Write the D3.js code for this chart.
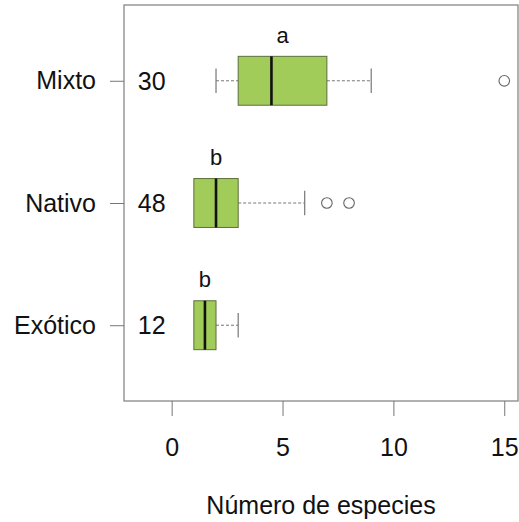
<!DOCTYPE html>
<html>
<head>
<meta charset="utf-8">
<script src="https://cdn.jsdelivr.net/npm/d3@7"></script>
<style>
  body { margin: 0; background: #fff; }
  text { font-family: "Liberation Sans", Arial, sans-serif; fill: #111; }
</style>
</head>
<body>
<div id="wrapper"></div>
<script>
// 1. Data

const groups = ["Mixto", "Nativo", "Exótico"];
const counts = [30, 48, 12];
const whiskerLow = [2, 1, 1];
const q1 = [3, 1, 1];
const medians = [4.5, 2, 1.5];
const q3 = [7, 3, 2];
const whiskerHigh = [9, 6, 3];
const outliers = [[15], [7, 8], []];
const letters = ["a", "b", "b"];
const letterPos = [5, 2, 1.5];
const xTicks = [0, 5, 10, 15];

const boxes = groups.map((g, i) => ({
  group: g, n: counts[i],
  lo: whiskerLow[i], q1: q1[i], med: medians[i], q3: q3[i], hi: whiskerHigh[i],
  out: outliers[i], letter: letters[i], letterX: letterPos[i],
  pos: groups.length - i,  // Mixto on top
}));

// 2. Dimensions

const dimensions = {
  width: 519,
  height: 522,
  margin: { top: 5, right: 1, bottom: 121, left: 124 },
};
dimensions.boundedWidth = dimensions.width - dimensions.margin.left - dimensions.margin.right;
dimensions.boundedHeight = dimensions.height - dimensions.margin.top - dimensions.margin.bottom;

// 3. Canvas

const wrapper = d3.select("#wrapper")
  .append("svg")
    .attr("width", dimensions.width)
    .attr("height", dimensions.height);

const bounds = wrapper.append("g")
    .attr("transform", `translate(${dimensions.margin.left}, ${dimensions.margin.top})`);

// 4. Scales

const xScale = d3.scaleLinear()
    .domain([-2.15, 15.62])
    .range([0, dimensions.boundedWidth]);

// positions 1..3 with R's 4% padding around 0.5..3.5
const yScale = d3.scaleLinear()
    .domain([0.38, 3.62])
    .range([dimensions.boundedHeight, 0]);

const boxHalf = 0.2;

// 5. Draw data

const boxG = bounds.selectAll("g.box")
  .data(boxes)
  .join("g")
    .attr("class", "box");

// whiskers (dashed)
boxG.append("line")
    .attr("x1", d => xScale(d.lo))
    .attr("x2", d => xScale(d.q1))
    .attr("y1", d => yScale(d.pos))
    .attr("y2", d => yScale(d.pos))
    .attr("stroke", "#777")
    .attr("stroke-dasharray", "3,2")
    .attr("display", d => d.lo < d.q1 ? null : "none");

boxG.append("line")
    .attr("x1", d => xScale(d.q3))
    .attr("x2", d => xScale(d.hi))
    .attr("y1", d => yScale(d.pos))
    .attr("y2", d => yScale(d.pos))
    .attr("stroke", "#777")
    .attr("stroke-dasharray", "3,2");

// whisker caps
boxG.append("line")
    .attr("x1", d => xScale(d.lo))
    .attr("x2", d => xScale(d.lo))
    .attr("y1", d => yScale(d.pos + boxHalf / 2))
    .attr("y2", d => yScale(d.pos - boxHalf / 2))
    .attr("stroke", "#777")
    .attr("stroke-width", 1.2)
    .attr("display", d => d.lo < d.q1 ? null : "none");

boxG.append("line")
    .attr("x1", d => xScale(d.hi))
    .attr("x2", d => xScale(d.hi))
    .attr("y1", d => yScale(d.pos + boxHalf / 2))
    .attr("y2", d => yScale(d.pos - boxHalf / 2))
    .attr("stroke", "#777")
    .attr("stroke-width", 1.2);

// the box
boxG.append("rect")
    .attr("x", d => xScale(d.q1))
    .attr("width", d => xScale(d.q3) - xScale(d.q1))
    .attr("y", d => yScale(d.pos + boxHalf))
    .attr("height", d => yScale(d.pos - boxHalf) - yScale(d.pos + boxHalf))
    .attr("fill", "#a2cc5a")
    .attr("stroke", "#5d6e3c")
    .attr("stroke-width", 1);

// median
boxG.append("line")
    .attr("x1", d => xScale(d.med))
    .attr("x2", d => xScale(d.med))
    .attr("y1", d => yScale(d.pos + boxHalf))
    .attr("y2", d => yScale(d.pos - boxHalf))
    .attr("stroke", "#111")
    .attr("stroke-width", 2.6);

// outliers
boxG.selectAll("circle")
  .data(d => d.out.map(v => ({ v, pos: d.pos })))
  .join("circle")
    .attr("cx", d => xScale(d.v))
    .attr("cy", d => yScale(d.pos))
    .attr("r", 5.3)
    .attr("fill", "none")
    .attr("stroke", "#666")
    .attr("stroke-width", 1.1);

// sample sizes
boxG.append("text")
    .attr("x", xScale(-0.9))
    .attr("y", d => yScale(d.pos) + 9)
    .attr("text-anchor", "middle")
    .style("font-size", "25px")
    .text(d => d.n);

// significance letters
boxG.append("text")
    .attr("x", d => xScale(d.letterX))
    .attr("y", d => yScale(d.pos + 0.31))
    .attr("text-anchor", "middle")
    .style("font-size", "22px")
    .text(d => d.letter);

// 6. Peripherals

bounds.append("rect")
    .attr("width", dimensions.boundedWidth)
    .attr("height", dimensions.boundedHeight)
    .attr("fill", "none")
    .attr("stroke", "#888")
    .attr("stroke-width", 1.3);

const xAxis = bounds.append("g")
    .attr("transform", `translate(0, ${dimensions.boundedHeight})`)
    .call(d3.axisBottom(xScale).tickValues(xTicks).tickSize(15).tickPadding(22).tickSizeOuter(0));
xAxis.select(".domain").remove();
xAxis.selectAll(".tick line").attr("stroke", "#777");
xAxis.selectAll(".tick text")
    .style("font-size", "25px")
    .attr("fill", "#111");

const yAxis = bounds.append("g")
    .call(d3.axisLeft(yScale).tickValues(boxes.map(d => d.pos))
      .tickFormat(p => boxes.find(b => b.pos === p).group)
      .tickSize(14).tickPadding(14));
yAxis.select(".domain").remove();
yAxis.selectAll(".tick line").attr("stroke", "#777");
yAxis.selectAll(".tick text")
    .style("font-size", "25px")
    .attr("fill", "#111");

// axis title, centred on the plot region
wrapper.append("text")
    .attr("x", dimensions.margin.left + dimensions.boundedWidth / 2)
    .attr("y", 514)
    .attr("text-anchor", "middle")
    .style("font-size", "25px")
    .text("Número de especies");
</script>
</body>
</html>
